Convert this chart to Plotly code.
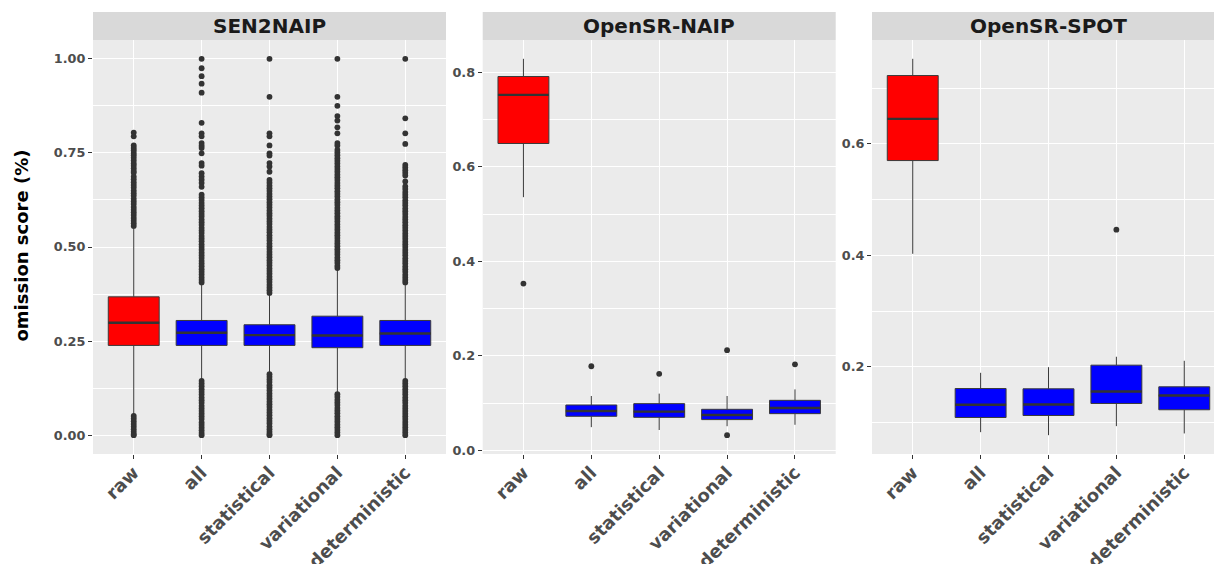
import plotly.graph_objects as go

# ---------------- data ----------------
categories = ["raw", "all", "statistical", "variational", "deterministic"]
box_colors = ["#FF0000", "#0000FF", "#0000FF", "#0000FF", "#0000FF"]
panel_titles = ["SEN2NAIP", "OpenSR-NAIP", "OpenSR-SPOT"]

sen2naip_q1 = [0.2385, 0.2385, 0.2385, 0.2324, 0.2385]
sen2naip_median = [0.2987, 0.2722, 0.2658, 0.2650, 0.2703]
sen2naip_q3 = [0.3676, 0.3048, 0.2934, 0.3162, 0.3048]
sen2naip_lower = [0.055, 0.146, 0.164, 0.111, 0.146]
sen2naip_upper = [0.552, 0.404, 0.376, 0.441, 0.404]
sen2naip_out_raw = [0.804, 0.794, 0.770, 0.763, 0.757, 0.750, 0.744, 0.737, 0.730, 0.722, 0.716, 0.709,
                    0.702, 0.697, 0.687, 0.680, 0.672, 0.665, 0.658, 0.650, 0.643, 0.636, 0.628, 0.621,
                    0.614, 0.606, 0.599, 0.592, 0.585, 0.577, 0.570, 0.563, 0.556,
                    0.051, 0.044, 0.037, 0.030, 0.023, 0.016, 0.009, 0.003, 0.000]
sen2naip_out_all = [1.000, 0.975, 0.954, 0.934, 0.910, 0.830, 0.802, 0.794, 0.776, 0.769, 0.763, 0.749,
                    0.723, 0.716, 0.696, 0.687, 0.679, 0.670, 0.660, 0.639, 0.632, 0.625, 0.617, 0.610,
                    0.603, 0.595, 0.588, 0.581, 0.573, 0.566, 0.559, 0.551, 0.544, 0.537, 0.529, 0.522,
                    0.515, 0.507, 0.500, 0.493, 0.485, 0.478, 0.471, 0.463, 0.456, 0.449, 0.441, 0.434,
                    0.427, 0.419, 0.412, 0.406,
                    0.144, 0.137, 0.130, 0.122, 0.115, 0.108, 0.100, 0.093, 0.086, 0.078, 0.071, 0.064,
                    0.057, 0.050, 0.043, 0.034, 0.027, 0.020, 0.013, 0.006, 0.000]
sen2naip_out_stat = [1.000, 0.899, 0.802, 0.794, 0.770, 0.749, 0.743, 0.723, 0.714, 0.700, 0.678, 0.671,
                     0.663, 0.656, 0.649, 0.641, 0.634, 0.627, 0.619, 0.612, 0.605, 0.597, 0.590, 0.583,
                     0.575, 0.568, 0.561, 0.553, 0.546, 0.539, 0.531, 0.524, 0.517, 0.509, 0.502, 0.495,
                     0.487, 0.480, 0.473, 0.465, 0.458, 0.451, 0.443, 0.436, 0.429, 0.421, 0.414, 0.407,
                     0.399, 0.392, 0.385, 0.378,
                     0.162, 0.155, 0.148, 0.141, 0.133, 0.126, 0.119, 0.111, 0.104, 0.097, 0.089, 0.082,
                     0.075, 0.067, 0.060, 0.053, 0.045, 0.038, 0.031, 0.023, 0.016, 0.009, 0.003, 0.000]
sen2naip_out_var = [1.000, 0.899, 0.875, 0.848, 0.836, 0.818, 0.802, 0.776, 0.770, 0.758, 0.751, 0.744,
                    0.736, 0.729, 0.722, 0.714, 0.707, 0.700, 0.692, 0.685, 0.678, 0.670, 0.663, 0.656,
                    0.648, 0.641, 0.634, 0.626, 0.619, 0.612, 0.604, 0.597, 0.590, 0.582, 0.575, 0.568,
                    0.560, 0.553, 0.546, 0.538, 0.531, 0.524, 0.516, 0.509, 0.502, 0.494, 0.487, 0.480,
                    0.472, 0.465, 0.458, 0.450, 0.444,
                    0.109, 0.102, 0.094, 0.087, 0.080, 0.072, 0.065, 0.058, 0.050, 0.043, 0.036, 0.028,
                    0.021, 0.014, 0.007, 0.000]
sen2naip_out_det = [1.000, 0.842, 0.802, 0.774, 0.718, 0.711, 0.704, 0.697, 0.690, 0.674, 0.661, 0.654,
                    0.646, 0.639, 0.632, 0.624, 0.617, 0.610, 0.602, 0.595, 0.588, 0.580, 0.573, 0.566,
                    0.558, 0.551, 0.544, 0.536, 0.529, 0.522, 0.514, 0.507, 0.500, 0.492, 0.485, 0.478,
                    0.470, 0.463, 0.456, 0.448, 0.441, 0.434, 0.426, 0.419, 0.412, 0.406,
                    0.144, 0.137, 0.130, 0.122, 0.115, 0.108, 0.100, 0.093, 0.086, 0.078, 0.071, 0.064,
                    0.057, 0.050, 0.043, 0.035, 0.028, 0.021, 0.014, 0.007, 0.000]

naip_q1 = [0.6497, 0.0720, 0.0698, 0.0650, 0.0776]
naip_median = [0.7527, 0.0832, 0.0819, 0.0747, 0.0895]
naip_q3 = [0.7915, 0.0959, 0.0988, 0.0868, 0.1058]
naip_lower = [0.536, 0.049, 0.043, 0.051, 0.054]
naip_upper = [0.829, 0.115, 0.120, 0.115, 0.129]
naip_out_raw = [0.353]
naip_out_all = [0.178]
naip_out_stat = [0.162]
naip_out_var = [0.212, 0.032]
naip_out_det = [0.182]

spot_q1 = [0.570, 0.109, 0.1126, 0.1342, 0.1229]
spot_median = [0.6448, 0.1318, 0.1324, 0.1557, 0.1485]
spot_q3 = [0.7225, 0.161, 0.1605, 0.2029, 0.1641]
spot_lower = [0.4027, 0.0827, 0.0773, 0.0935, 0.0804]
spot_upper = [0.7525, 0.1892, 0.1993, 0.218, 0.2108]
spot_out_raw = []
spot_out_all = []
spot_out_stat = []
spot_out_var = [0.446]
spot_out_det = []

y_title = "omission score (%)"

# ---------------- layout constants ----------------
W, H = 1214, 564
FONT = "DejaVu Sans"
panel_px = [(93, 446), (482.7, 835.7), (872, 1225)]   # full panel extents in px
plot_top, plot_bot = 40, 454
strip_top = 12
box_w = 0.75

panels = [
    dict(q1=sen2naip_q1, med=sen2naip_median, q3=sen2naip_q3, lo=sen2naip_lower, hi=sen2naip_upper,
         out=[sen2naip_out_raw, sen2naip_out_all, sen2naip_out_stat, sen2naip_out_var, sen2naip_out_det],
         dtick=0.25, fmt=".2f"),
    dict(q1=naip_q1, med=naip_median, q3=naip_q3, lo=naip_lower, hi=naip_upper,
         out=[naip_out_raw, naip_out_all, naip_out_stat, naip_out_var, naip_out_det],
         dtick=0.2, fmt=".1f"),
    dict(q1=spot_q1, med=spot_median, q3=spot_q3, lo=spot_lower, hi=spot_upper,
         out=[spot_out_raw, spot_out_all, spot_out_stat, spot_out_var, spot_out_det],
         dtick=0.2, fmt=".1f"),
]

fig = go.Figure()
xs = list(range(len(categories)))
ydom = [(H - plot_bot) / H, (H - plot_top) / H]

for p_i, p in enumerate(panels):
    sfx = "" if p_i == 0 else str(p_i + 1)
    xa, ya = "x" + sfx, "y" + sfx
    for i, cat in enumerate(categories):
        fig.add_trace(go.Box(
            x=[i], q1=[p["q1"][i]], median=[p["med"][i]], q3=[p["q3"][i]],
            lowerfence=[p["lo"][i]], upperfence=[p["hi"][i]],
            width=box_w, whiskerwidth=0, boxpoints=False,
            fillcolor=box_colors[i], line=dict(color="#3a3a3a", width=1),
            xaxis=xa, yaxis=ya, showlegend=False, hoverinfo="skip"))
        # thicker median bar (ggplot fatten)
        fig.add_trace(go.Scatter(
            x=[i - box_w / 2, i + box_w / 2], y=[p["med"][i], p["med"][i]],
            mode="lines", line=dict(color="#333333", width=2.4),
            xaxis=xa, yaxis=ya, showlegend=False, hoverinfo="skip"))
        if p["out"][i]:
            fig.add_trace(go.Scatter(
                x=[i] * len(p["out"][i]), y=p["out"][i], mode="markers",
                marker=dict(color="#333333", size=5.8, line=dict(width=0)),
                xaxis=xa, yaxis=ya, showlegend=False, hoverinfo="skip"))

    # y range: ggplot 5% expansion of data range
    allv = p["lo"] + p["hi"] + [v for o in p["out"] for v in o]
    vmin, vmax = min(allv), max(allv)
    pad = 0.05 * (vmax - vmin)
    x0px, x1px = panel_px[p_i]
    scale = (x1px - x0px) / (len(categories) - 1 + 1.2)
    x1_vis = min(x1px, W)
    xr_max = -0.6 + (x1_vis - x0px) / scale

    axis_font = dict(family=FONT, size=12.8, color="#4d4d4d", weight="bold")
    fig.update_layout({
        "xaxis" + sfx: dict(
            domain=[x0px / W, x1_vis / W], anchor=ya, range=[-0.6, xr_max], automargin=False,
            tickmode="array", tickvals=xs, ticktext=categories, tickangle=-45,
            tickfont=dict(family=FONT, size=18, color="#4d4d4d", weight="bold"),
            ticks="outside", ticklen=4, tickcolor="#333333", tickwidth=1,
            ticklabelstandoff=-4,
            showgrid=True, gridcolor="white", gridwidth=1.2,
            zeroline=False, showline=False, fixedrange=True),
        "yaxis" + sfx: dict(
            domain=ydom, anchor=xa, range=[vmin - pad, vmax + pad], automargin=False,
            tick0=0, dtick=p["dtick"], tickformat=p["fmt"], tickfont=axis_font,
            ticks="outside", ticklen=4, tickcolor="#333333", tickwidth=1,
            showgrid=True, gridcolor="white", gridwidth=1.2,
            minor=dict(dtick=p["dtick"] / 2, showgrid=True, gridcolor="white", gridwidth=0.6),
            zeroline=False, showline=False, fixedrange=True),
    })

    # strip
    fig.add_shape(type="rect", xref="paper", yref="paper",
                  x0=x0px / W, x1=x1_vis / W, y0=(H - plot_top) / H, y1=(H - strip_top) / H,
                  fillcolor="#D9D9D9", line=dict(width=0), layer="below")
    fig.add_annotation(xref="paper", yref="paper", x=(x0px + x1px) / 2 / W,
                       y=(H - (plot_top + strip_top) / 2) / H, text=panel_titles[p_i],
                       showarrow=False, xanchor="center", yanchor="middle",
                       font=dict(family=FONT, size=20, color="#1a1a1a", weight="bold"))

fig.add_annotation(xref="paper", yref="paper", x=21 / W, y=(H - 245.5) / H,
                   text=y_title, textangle=-90, showarrow=False, xanchor="center", yanchor="middle",
                   font=dict(family=FONT, size=18, color="black", weight="bold"))

fig.update_layout(width=W, height=H, margin=dict(l=0, r=0, t=0, b=0, autoexpand=False),
                  paper_bgcolor="white", plot_bgcolor="#EBEBEB", showlegend=False)

fig.write_html("out.html", config={"displayModeBar": False},
               post_script="document.body.style.margin='0';")
